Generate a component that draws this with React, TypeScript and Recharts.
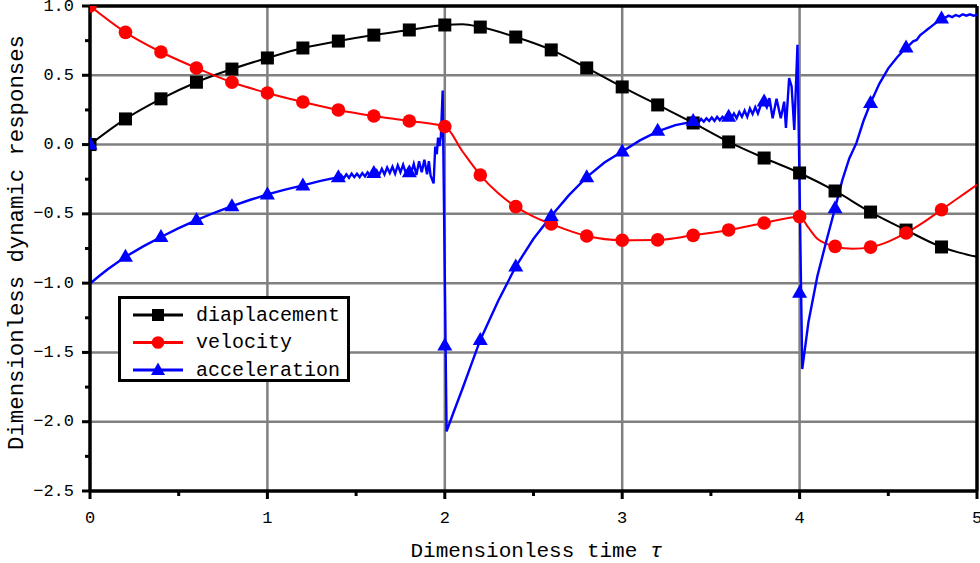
import React from "react";
import {
  LineChart,
  Line,
  XAxis,
  YAxis,
  CartesianGrid,
  ReferenceLine,
} from "recharts";

const FONT = "'Liberation Mono', 'DejaVu Sans Mono', monospace";

// tick values (minor ticks at the half steps)
const X_TICKS = [0, 0.5, 1, 1.5, 2, 2.5, 3, 3.5, 4, 4.5, 5];
const Y_TICKS = [-2.5, -2.25, -2, -1.75, -1.5, -1.25, -1, -0.75, -0.5, -0.25, 0, 0.25, 0.5, 0.75, 1];
const X_GRID = [1, 2, 3, 4];
const Y_GRID = [-2, -1.5, -1, -0.5, 0, 0.5];

// marker positions (every 0.2 of tau)
const markerTimes = [0, 0.2, 0.4, 0.6, 0.8, 1.0, 1.2, 1.4, 1.6, 1.8, 2.0, 2.2, 2.4, 2.6, 2.8, 3.0, 3.2, 3.4, 3.6, 3.8, 4.0, 4.2, 4.4, 4.6, 4.8];
const displacementMarks = [0, 0.185, 0.33, 0.45, 0.545, 0.625, 0.697, 0.747, 0.79, 0.827, 0.863, 0.848, 0.776, 0.683, 0.553, 0.416, 0.286, 0.156, 0.019, -0.097, -0.205, -0.335, -0.487, -0.617, -0.739];
const velocityMarks = [1.0, 0.81, 0.668, 0.553, 0.45, 0.372, 0.307, 0.25, 0.206, 0.17, 0.13, -0.22, -0.448, -0.573, -0.66, -0.69, -0.688, -0.655, -0.616, -0.566, -0.52, -0.735, -0.74, -0.638, -0.47];
const accelerationMarks = [0, -0.81, -0.667, -0.545, -0.445, -0.36, -0.295, -0.235, -0.205, -0.2, -1.45, -1.41, -0.88, -0.515, -0.235, -0.05, 0.1, 0.17, 0.2, 0.31, -1.07, -0.46, 0.3, 0.7, 0.91];

// curves [tau, value]
const displacementCurve = [
  [0, 0], [0.2, 0.185], [0.4, 0.33], [0.6, 0.45], [0.8, 0.545], [1.0, 0.625], [1.2, 0.697],
  [1.4, 0.747], [1.6, 0.79], [1.8, 0.827], [2.0, 0.863], [2.1, 0.868], [2.2, 0.848], [2.4, 0.776],
  [2.6, 0.683], [2.8, 0.553], [3.0, 0.416], [3.2, 0.286], [3.4, 0.156], [3.6, 0.019], [3.8, -0.097],
  [4.0, -0.205], [4.2, -0.335], [4.4, -0.487], [4.6, -0.617], [4.8, -0.739], [4.9, -0.78], [5.0, -0.81],
];
const velocityCurve = [
  [0, 1.0], [0.2, 0.81], [0.4, 0.668], [0.6, 0.553], [0.8, 0.45], [1.0, 0.372], [1.2, 0.307],
  [1.4, 0.25], [1.6, 0.206], [1.8, 0.17], [2.0, 0.13], [2.1, -0.05], [2.2, -0.22], [2.3, -0.35],
  [2.4, -0.448], [2.5, -0.52], [2.6, -0.573], [2.8, -0.66], [3.0, -0.69], [3.2, -0.688], [3.4, -0.655],
  [3.6, -0.616], [3.8, -0.566], [4.0, -0.52], [4.05, -0.6], [4.1, -0.68], [4.2, -0.735], [4.3, -0.752],
  [4.4, -0.74], [4.5, -0.7], [4.6, -0.638], [4.7, -0.56], [4.8, -0.47], [4.9, -0.38], [5.0, -0.29],
];
const accelerationCurve = [
  [0, 0], [0.003, -1.0], [0.05, -0.95], [0.1, -0.9], [0.15, -0.855], [0.2, -0.81], [0.3, -0.735],
  [0.4, -0.667], [0.5, -0.603], [0.6, -0.545], [0.7, -0.492], [0.8, -0.445], [0.9, -0.4], [1.0, -0.36],
  [1.1, -0.325], [1.2, -0.295], [1.3, -0.262],
  [1.4, -0.235], [1.415, -0.22], [1.43, -0.245], [1.445, -0.215], [1.46, -0.24], [1.475, -0.21],
  [1.49, -0.235], [1.505, -0.21], [1.52, -0.235], [1.535, -0.205], [1.55, -0.23], [1.565, -0.2],
  [1.58, -0.225], [1.6, -0.205], [1.615, -0.185], [1.63, -0.22], [1.645, -0.175], [1.66, -0.215],
  [1.675, -0.165], [1.69, -0.205], [1.705, -0.16], [1.72, -0.21], [1.735, -0.15], [1.75, -0.2],
  [1.765, -0.145], [1.78, -0.205], [1.795, -0.175], [1.81, -0.205], [1.825, -0.14], [1.84, -0.22],
  [1.855, -0.12], [1.87, -0.2], [1.885, -0.11], [1.9, -0.215], [1.91, -0.12], [1.92, -0.225],
  [1.937, -0.28], [1.946, -0.015], [1.955, -0.07], [1.962, 0.05], [1.97, -0.01], [1.978, 0.06],
  [1.988, 0.39], [2.01, -2.07],
  [2.05, -1.93], [2.1, -1.76], [2.15, -1.585], [2.2, -1.41], [2.3, -1.13], [2.4, -0.88], [2.5, -0.68],
  [2.6, -0.515], [2.7, -0.365], [2.8, -0.235], [2.9, -0.13], [3.0, -0.05], [3.1, 0.03], [3.2, 0.095],
  [3.3, 0.14],
  [3.4, 0.165], [3.415, 0.18], [3.43, 0.16], [3.445, 0.185], [3.46, 0.165], [3.475, 0.19], [3.49, 0.17],
  [3.505, 0.195], [3.52, 0.17], [3.535, 0.2], [3.55, 0.175], [3.565, 0.2], [3.58, 0.18], [3.6, 0.2],
  [3.615, 0.19], [3.63, 0.225], [3.645, 0.19], [3.66, 0.235], [3.675, 0.2], [3.69, 0.245], [3.705, 0.2],
  [3.72, 0.26], [3.735, 0.22], [3.75, 0.27], [3.765, 0.225], [3.78, 0.28], [3.8, 0.31], [3.815, 0.27],
  [3.83, 0.335], [3.848, 0.19], [3.87, 0.33], [3.894, 0.19], [3.913, 0.31], [3.923, 0.12],
  [3.941, 0.48], [3.955, 0.42], [3.97, 0.105], [3.988, 0.72], [4.015, -1.62],
  [4.05, -1.28], [4.1, -0.95], [4.15, -0.7], [4.2, -0.46], [4.24, -0.26], [4.28, -0.1], [4.32, 0.01],
  [4.36, 0.17], [4.4, 0.3], [4.45, 0.44], [4.5, 0.55], [4.55, 0.63], [4.6, 0.7], [4.62, 0.72],
  [4.64, 0.745], [4.66, 0.755], [4.68, 0.79], [4.7, 0.81], [4.72, 0.83], [4.75, 0.86], [4.78, 0.89],
  [4.8, 0.91], [4.82, 0.915], [4.84, 0.93], [4.86, 0.92], [4.88, 0.935], [4.9, 0.925], [4.92, 0.94],
  [4.94, 0.93], [4.96, 0.94], [4.98, 0.93], [5.0, 0.935],
];

const toPoints = (pairs: number[][]) => pairs.map(([t, v]) => ({ t, v }));
const marks = (vals: number[]) => markerTimes.map((t, i) => ({ t, v: vals[i] }));

const fmt = (v: number) => v.toFixed(1).replace("-", "\u2212");

const XTick = (props: any) => {
  const { x, y, payload } = props;
  const major = Number.isInteger(payload.value);
  return (
    <g>
      <line x1={x} x2={x} y1={y} y2={y + (major ? 8 : 5)} stroke="#000" strokeWidth={3} />
      {major && (
        <text x={x} y={y + 27} textAnchor="middle" dominantBaseline="central" fontFamily={FONT} fontSize={17} fill="#000">
          {payload.value}
        </text>
      )}
    </g>
  );
};

const YTick = (props: any) => {
  const { x, y, payload } = props;
  const major = Math.abs(payload.value * 2 - Math.round(payload.value * 2)) < 1e-6;
  return (
    <g>
      <line x1={x} x2={x - (major ? 8 : 5)} y1={y} y2={y} stroke="#000" strokeWidth={3} />
      {major && (
        <text x={x - 16} y={y} textAnchor="end" dominantBaseline="central" fontFamily={FONT} fontSize={17} fill="#000">
          {fmt(payload.value)}
        </text>
      )}
    </g>
  );
};

const square = (color: string) => (p: any) =>
  p.cx == null ? <g key={p.index} /> : <rect key={p.index} x={p.cx - 6.5} y={p.cy - 6.5} width={13} height={13} fill={color} />;
const circle = (color: string) => (p: any) =>
  p.cx == null ? <g key={p.index} /> : <circle key={p.index} cx={p.cx} cy={p.cy} r={6.8} fill={color} />;
const triangle = (color: string) => (p: any) =>
  p.cx == null ? (
    <g key={p.index} />
  ) : (
    <polygon key={p.index} points={`${p.cx},${p.cy - 8} ${p.cx - 7.5},${p.cy + 5} ${p.cx + 7.5},${p.cy + 5}`} fill={color} />
  );

const LEGEND = [
  { name: "diaplacement", color: "#000000", shape: "square" },
  { name: "velocity", color: "#ff0000", shape: "circle" },
  { name: "acceleration", color: "#0000ff", shape: "triangle" },
];

function LegendBox() {
  return (
    <svg width={232} height={86} style={{ position: "absolute", left: 118, top: 296 }}>
      <rect x={1.5} y={1.5} width={229} height={83} fill="#fff" stroke="#000" strokeWidth={3} />
      {LEGEND.map((item, i) => {
        const cy = 19 + i * 27.5;
        return (
          <g key={item.name}>
            <line x1={15} x2={65} y1={cy} y2={cy} stroke={item.color} strokeWidth={3} />
            {item.shape === "square" && <rect x={34} y={cy - 6} width={12} height={12} fill={item.color} />}
            {item.shape === "circle" && <circle cx={40} cy={cy} r={6.3} fill={item.color} />}
            {item.shape === "triangle" && (
              <polygon points={`40,${cy - 7.5} 33,${cy + 5} 47,${cy + 5}`} fill={item.color} />
            )}
            <text x={78} y={cy} dominantBaseline="central" fontFamily={FONT} fontSize={20} fill="#000">
              {item.name}
            </text>
          </g>
        );
      })}
    </svg>
  );
}

export default function App() {
  return (
    <div style={{ position: "absolute", left: 0, top: 0, width: 980, height: 563, background: "#fff" }}>
      <LineChart width={980} height={563} margin={{ top: 6, right: 3, bottom: 0, left: 0 }}>
        <CartesianGrid stroke="#808080" strokeWidth={2.5} horizontalValues={Y_GRID} verticalValues={X_GRID} />
        <XAxis
          dataKey="t"
          type="number"
          domain={[0, 5]}
          ticks={X_TICKS}
          interval={0}
          allowDataOverflow
          height={72}
          tickSize={0}
          tickMargin={0}
          tickLine={false}
          axisLine={{ stroke: "#000", strokeWidth: 3.5 }}
          tick={<XTick />}
          label={(p: any) => {
            const vb = p.viewBox;
            return (
              <text x={vb.x + vb.width / 2 + 3} y={vb.y + 66} textAnchor="middle" fontFamily={FONT} fontSize={21} fill="#000">
                Dimensionless time <tspan fontStyle="italic">τ</tspan>
              </text>
            );
          }}
        />
        <YAxis
          type="number"
          domain={[-2.5, 1]}
          ticks={Y_TICKS}
          interval={0}
          allowDataOverflow
          width={90}
          tickSize={0}
          tickMargin={0}
          tickLine={false}
          axisLine={{ stroke: "#000", strokeWidth: 3.5 }}
          tick={<YTick />}
          label={(p: any) => {
            const vb = p.viewBox;
            const cx = 17;
            const cy = vb.y + vb.height / 2 - 6;
            return (
              <text
                x={cx}
                y={cy}
                transform={`rotate(-90 ${cx} ${cy})`}
                textAnchor="middle"
                dominantBaseline="central"
                fontFamily={FONT}
                fontSize={22.3}
                fill="#000"
              >
                Dimensionless dynamic responses
              </text>
            );
          }}
        />
        <ReferenceLine y={1} stroke="#000" strokeWidth={3.5} />
        <ReferenceLine x={5} stroke="#000" strokeWidth={3.5} />

        <Line data={toPoints(displacementCurve)} dataKey="v" type="monotone" stroke="#000000" strokeWidth={2} dot={false} activeDot={false} isAnimationActive={false} />
        <Line data={marks(displacementMarks)} dataKey="v" stroke="none" dot={square("#000000")} activeDot={false} isAnimationActive={false} />
        <Line data={toPoints(velocityCurve)} dataKey="v" type="monotone" stroke="#ff0000" strokeWidth={2} dot={false} activeDot={false} isAnimationActive={false} />
        <Line data={marks(velocityMarks)} dataKey="v" stroke="none" dot={circle("#ff0000")} activeDot={false} isAnimationActive={false} />
        <Line data={toPoints(accelerationCurve)} dataKey="v" type="linear" stroke="#0000ff" strokeWidth={2.4} dot={false} activeDot={false} isAnimationActive={false} />
        <Line data={marks(accelerationMarks)} dataKey="v" stroke="none" dot={triangle("#0000ff")} activeDot={false} isAnimationActive={false} />
      </LineChart>
      <LegendBox />
    </div>
  );
}
